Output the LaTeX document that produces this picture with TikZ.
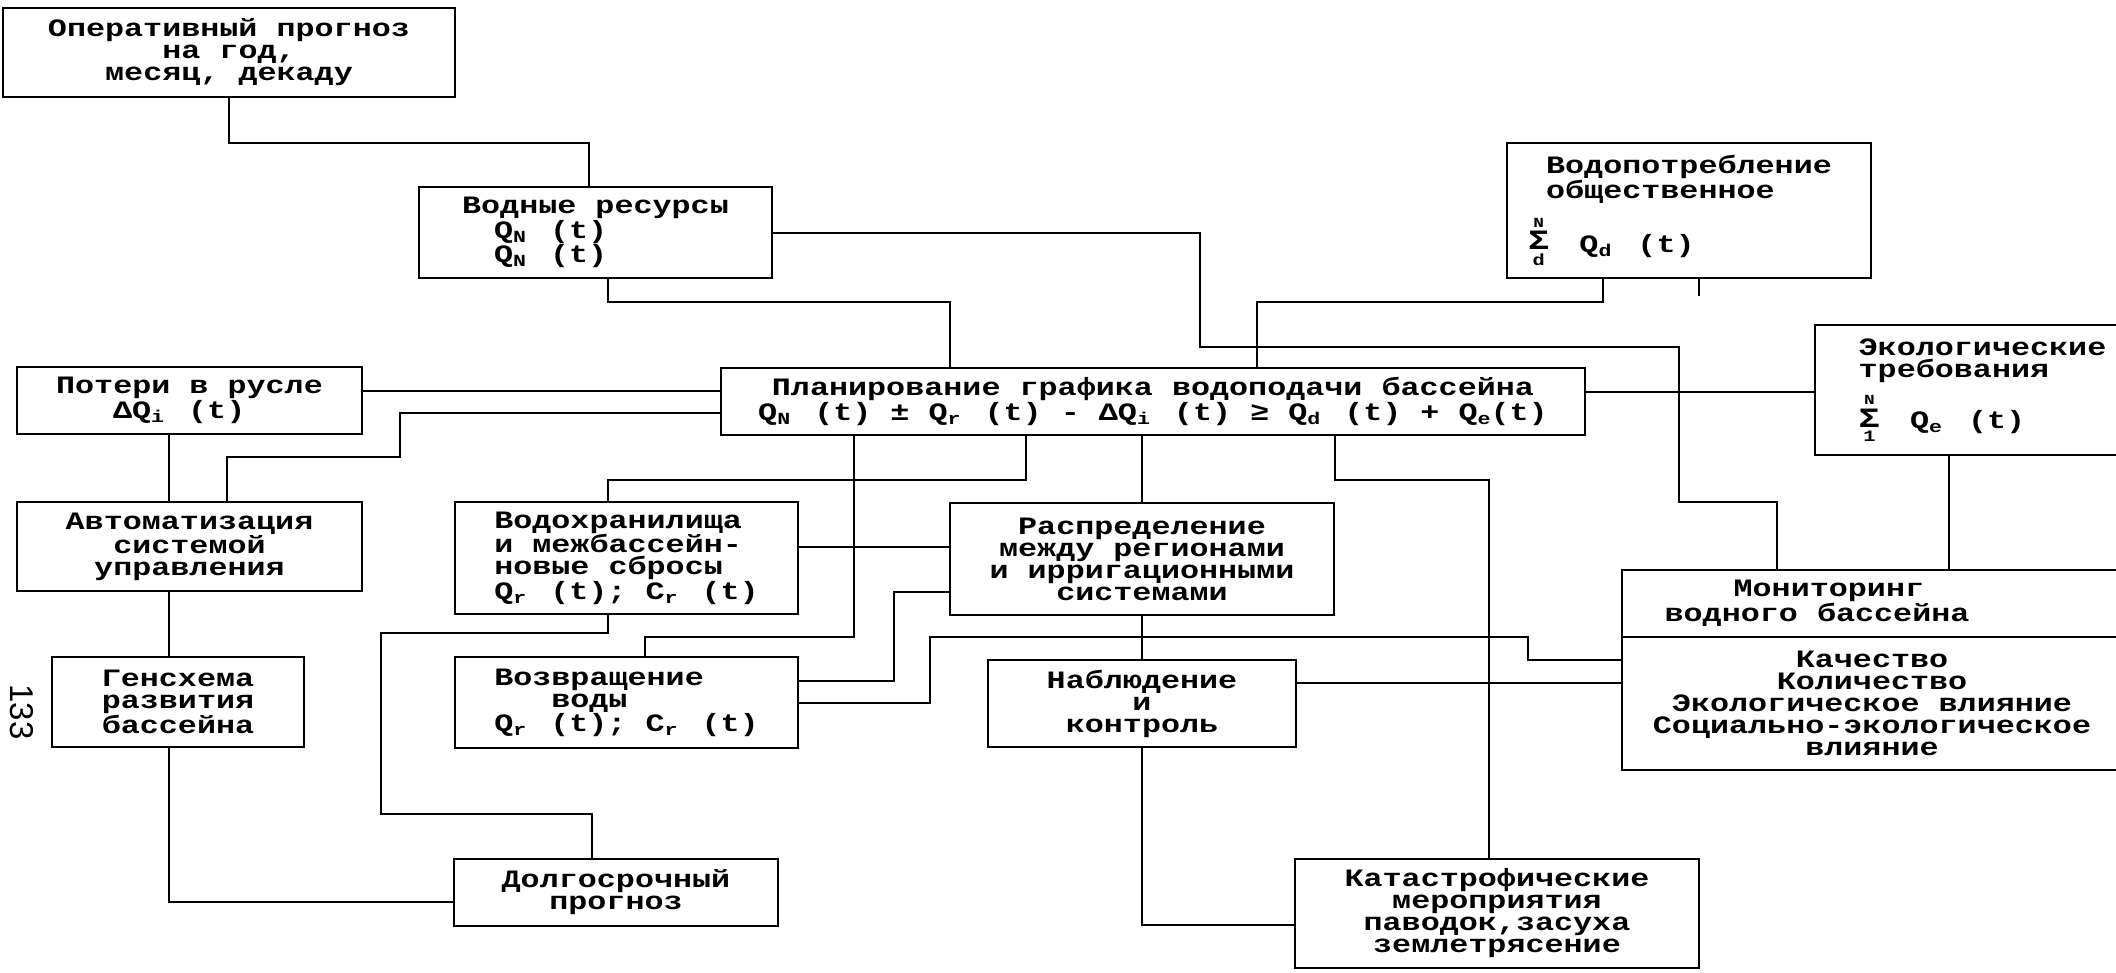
\documentclass[tikz,border=0pt]{standalone}
\usepackage{fontspec}
\newfontfamily\tw[FakeStretch=1.27]{Liberation Mono}
\newfontfamily\pagefont{Liberation Sans}
% index lowered under the letter
\newcommand\lo[1]{\raisebox{-4pt}{\fontsize{17}{17}\selectfont #1}}
\newcommand\Qt[1]{Q\lo{#1}\hspace{24pt}(t)}
% sum sign with N above and index below
\newcommand\sumop[1]{\raisebox{-13pt}{\vbox{\offinterlineskip\halign{\hfil##\hfil\cr
  \fontsize{14}{14}\selectfont N\cr\noalign{\kern4pt}
  \fontsize{28}{28}\selectfont Σ\cr\noalign{\kern4pt}
  \fontsize{16}{16}\selectfont #1\cr}}}}

\begin{document}
\begin{tikzpicture}[x=1pt,y=-1pt,
    box/.style={draw,line width=2.6pt,inner sep=0pt,align=center,
        font=\tw\bfseries\fontsize{25}{22}\selectfont},
    link/.style={line width=1.8pt}]

    \useasboundingbox (0,0) rectangle (2116,972);

    % blocks
    \node[box,minimum width=452pt,minimum height=89pt] (oper) at (229,52.5)
        {Оперативный прогноз\\на год,\\месяц, декаду};
    \node[box,align=left,minimum width=353pt,minimum height=91pt] (vodres) at (595.5,232.5)
        {Водные ресурсы\\\hspace*{32pt}\Qt{N}\\\hspace*{32pt}\Qt{N}};
    \node[box,align=left,minimum width=364pt,minimum height=135pt] (vodpot) at (1689,210.5)
        {Водопотребление\\общественное\\[14pt]\hspace*{-18pt}\sumop{d}\hspace{30pt}Q\lo{d}\hspace{26pt}(t)};
    \node[box,align=left,minimum width=345pt,minimum height=67pt] (poteri) at (189.5,400.5)
        {Потери в русле\\\hspace*{57pt}Δ\Qt{i}};
    \node[box,minimum width=864pt,minimum height=67pt] (plan) at (1153,401.5)
        {Планирование графика водоподачи бассейна\\
         \Qt{N} ± \Qt{r} - Δ\Qt{i} ≥ \Qt{d} + Q\lo{e}(t)};
    \node[box,align=left,minimum width=335pt,minimum height=130pt] (ecol) at (1982.5,390)
        {Экологические\\требования\\[12pt]\sumop{1}\hspace{30pt}Q\lo{e}\hspace{26pt}(t)};
    \node[box,minimum width=345pt,minimum height=89pt] (avtom) at (189.5,546.5)
        {Автоматизация\\системой\\управления};
    \node[box,align=left,minimum width=343pt,minimum height=112pt] (vodokhr) at (626.5,558)
        {Водохранилища\\и межбассейн-\\новые сбросы\\\Qt{r}; C\lo{r}\hspace{24pt}(t)};
    \node[box,minimum width=384pt,minimum height=112pt] (raspr) at (1142,559)
        {Распределение\\между регионами\\и ирригационными\\системами};
    \node[box,align=left,minimum width=500pt,minimum height=67pt] (monit) at (1872,603.5)
        {\hspace*{69pt}Мониторинг\\водного бассейна\hspace*{110pt}};
    \node[box,minimum width=500pt,minimum height=133pt] (qual) at (1872,703.5)
        {Качество\\Количество\\Экологическое влияние\\Социально-экологическое\\влияние};
    \node[box,minimum width=252pt,minimum height=90pt] (gensch) at (178,702)
        {Генсхема\\развития\\бассейна};
    \node[box,align=left,minimum width=343pt,minimum height=91pt] (vozvr) at (626.5,702.5)
        {Возвращение\\\hspace*{57pt}воды\\\Qt{r}; C\lo{r}\hspace{24pt}(t)};
    \node[box,minimum width=308pt,minimum height=87pt] (nabl) at (1142,703.5)
        {Наблюдение\\и\\контроль};
    \node[box,minimum width=324pt,minimum height=67pt] (dolg) at (616,892.5)
        {Долгосрочный\\прогноз};
    \node[box,minimum width=404pt,minimum height=109pt] (katastr) at (1497,913.5)
        {Катастрофические\\мероприятия\\паводок,засуха\\землетрясение};

    \node[font=\pagefont\fontsize{33}{33}\selectfont,rotate=-90] (pageno) at (22,712) {133};

    % connections
    \scope[link]
    \draw (oper.south) |- (589,143) -- (vodres.north -| 589,0);
    \draw (vodres.south -| 608,0) |- (950,302) -- (plan.north -| 950,0);
    \draw (vodres.east |- 0,233) -| (1200,347) -| (1679,502) -| (monit.north -| 1777,0);
    \draw (vodpot.south -| 1603,0) |- (1257,302) -- (plan.north -| 1257,0);
    \draw (vodpot.south -| 1699,0) -- ++(0,17);
    \draw (poteri.east |- 0,391) -- (plan.west |- 0,391);
    \draw (plan.west |- 0,413) -| (400,457) -| (avtom.north -| 227,0);
    \draw (poteri.south -| 169,0) -- (avtom.north -| 169,0);
    \draw (avtom.south -| 169,0) -- (gensch.north -| 169,0);
    \draw (gensch.south -| 169,0) |- (dolg.west |- 0,902);
    \draw (plan.east |- 0,392) -- (ecol.west |- 0,392);
    \draw (ecol.south -| 1949,0) -- (monit.north -| 1949,0);
    \draw (plan.south -| 854,0) |- (645,637) -- (vozvr.north -| 645,0);
    \draw (plan.south -| 1026,0) |- (608,480) -- (vodokhr.north -| 608,0);
    \draw (vodokhr.east |- 0,547) -- (raspr.west |- 0,547);
    \draw (vodokhr.south -| 608,0) |- (381,633) |- (592,814) -- (dolg.north -| 592,0);
    \draw (vozvr.east |- 0,681) -| (894,592) -- (raspr.west |- 0,592);
    \draw (vozvr.east |- 0,703) -| (930,637) -| (1528,660) -- (qual.west |- 0,660);
    \draw (nabl.east |- 0,683) -- (qual.west |- 0,683);
    \draw (plan.south -| 1142,0) -- (raspr.north);
    \draw (raspr.south) -- (nabl.north);
    \draw (nabl.south) |- (katastr.west |- 0,925);
    \draw (plan.south -| 1335,0) |- (1489,480) -- (katastr.north -| 1489,0);
    \endscope
\end{tikzpicture}
\end{document}
